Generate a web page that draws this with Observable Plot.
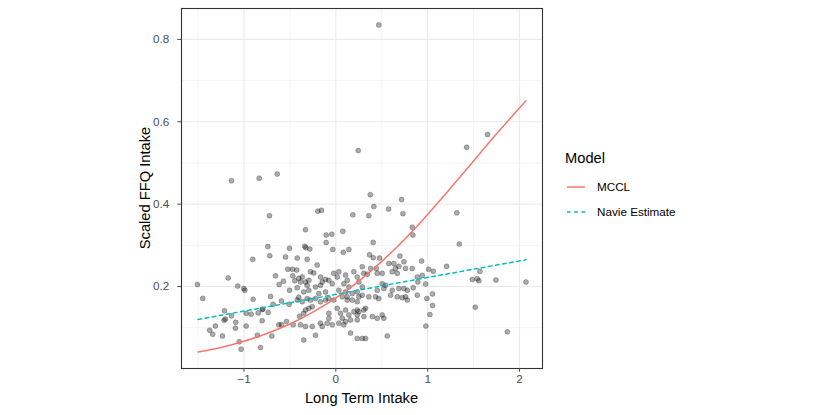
<!DOCTYPE html>
<html>
<head>
<meta charset="utf-8">
<script src="https://cdn.jsdelivr.net/npm/d3@7"></script>
<script src="https://cdn.jsdelivr.net/npm/@observablehq/plot@0.6"></script>
<style>
  html, body { margin: 0; padding: 0; background: white; }
  #chart { width: 830px; height: 415px; }
</style>
</head>
<body>
<div id="chart"></div>
<script>
// ---- data ----
const ptX = [
  0.468, 0.244, 1.424, 1.652, 1.318, 1.344, 0.832, 0.839, 0.934, 1.010,
  1.061, 1.206, 0.941, 0.893, 0.977, 0.843, 1.569, 1.486, 1.540, 1.558,
  1.743, 2.070, 1.053, 0.991, 1.053, 1.024, 0.980, 1.518, 1.867, 0.375,
  0.716, 0.414, 0.574, 0.730, -0.196, -0.156, 0.185, 0.359, -0.330, -0.105,
  -0.044, 0.076, -0.105, 0.407, -0.338, -0.327, -0.283, -0.033, 0.142, 0.081,
  0.367, 0.407, 0.476, 0.697, -0.420, -0.312, -1.136, -0.834, -0.638, -0.722,
  -0.741, -0.504, -0.719, -0.548, -0.904, -0.472, -0.523, -0.425, -1.507, -1.172,
  -1.449, -1.068, -1.002, -0.991, -0.657, -0.570, -0.617, -0.468, -0.447, -0.420,
  -0.504, -0.711, -0.900, -0.682, -0.592, -0.508, -0.403, -1.212, -1.136, -1.216,
  -1.202, -1.311, -1.373, -1.340, -1.234, -1.089, -1.093, -0.976, -0.922, -0.845,
  -0.795, -0.802, -0.736, -0.976, -0.802, -0.853, -1.052, -1.031, -0.820, -0.697,
  -0.621, -0.592, -0.537, -0.464, -0.395,
  -0.203, -0.276, -0.240, -0.403, -0.366, -0.385, -0.330, -0.294, -0.312, -0.167,
  -0.148, -0.112, -0.022, 0.033, 0.015, -0.076, -0.039, 0.106, 0.124, 0.087,
  0.196, 0.233, -0.349, -0.294, -0.185, -0.112, 0.033, 0.106, 0.142, -0.221,
  -0.167, -0.076, 0.070, 0.124, 0.179, 0.233,
  0.288, 0.305, 0.342, 0.378, 0.440, 0.451, 0.505, 0.577, 0.632, 0.686,
  0.650, 0.669, 0.614, 0.741, 0.759, 0.832, 0.887, 0.251, 0.288, 0.505,
  0.541, 0.523, 0.451, 0.288, 0.359, 0.432, 0.614, 0.686, 0.741, 0.778,
  0.596, 0.669, 0.759, 0.887,
  -0.420, -0.366, -0.312, -0.276, -0.221, -0.167, -0.112, -0.022, 0.124, 0.179,
  0.233, -0.330, -0.294, -0.257, -0.349, -0.076, -0.076, -0.094, -0.167, -0.148,
  0.015, 0.051, 0.106, 0.142, 0.196, 0.233, 0.070, 0.106, 0.160, 0.233,
  -0.385, -0.330, -0.257, -0.039, 0.033, 0.087, -0.349, -0.221, 0.160, 0.233,
  0.251, 0.468, 0.723, 0.778, 0.324, 0.305, 0.251, 0.233, 0.305, 0.397,
  0.451, 0.505, 0.523, 0.288, 0.324, 0.560
];
const ptY = [
  0.835, 0.530, 0.538, 0.569, 0.379, 0.303, 0.344, 0.325, 0.262, 0.242,
  0.237, 0.249, 0.227, 0.211, 0.206, 0.197, 0.237, 0.217, 0.219, 0.214,
  0.216, 0.211, 0.182, 0.171, 0.154, 0.132, 0.104, 0.150, 0.090, 0.423,
  0.411, 0.394, 0.388, 0.377, 0.383, 0.385, 0.374, 0.372, 0.338, 0.325,
  0.327, 0.334, 0.307, 0.307, 0.298, 0.294, 0.291, 0.290, 0.290, 0.283,
  0.277, 0.270, 0.269, 0.274, 0.269, 0.266, 0.457, 0.463, 0.473, 0.372,
  0.297, 0.293, 0.275, 0.272, 0.266, 0.242, 0.242, 0.240, 0.205, 0.221,
  0.171, 0.201, 0.195, 0.191, 0.226, 0.213, 0.205, 0.226, 0.214, 0.197,
  0.191, 0.176, 0.169, 0.157, 0.165, 0.157, 0.174, 0.141, 0.129, 0.118,
  0.121, 0.104, 0.094, 0.084, 0.080, 0.113, 0.099, 0.135, 0.133, 0.136,
  0.145, 0.144, 0.137, 0.104, 0.117, 0.082, 0.066, 0.048, 0.052, 0.080,
  0.107, 0.108, 0.115, 0.107, 0.128,
  0.252, 0.236, 0.233, 0.220, 0.223, 0.211, 0.211, 0.215, 0.203, 0.223,
  0.211, 0.217, 0.232, 0.236, 0.223, 0.215, 0.207, 0.228, 0.215, 0.207,
  0.236, 0.223, 0.187, 0.191, 0.183, 0.187, 0.191, 0.187, 0.199, 0.199,
  0.203, 0.171, 0.175, 0.175, 0.183, 0.187,
  0.248, 0.232, 0.230, 0.244, 0.244, 0.232, 0.232, 0.256, 0.256, 0.249,
  0.244, 0.232, 0.236, 0.260, 0.244, 0.244, 0.223, 0.211, 0.199, 0.207,
  0.203, 0.195, 0.191, 0.179, 0.175, 0.175, 0.191, 0.195, 0.195, 0.191,
  0.179, 0.175, 0.175, 0.179,
  0.167, 0.163, 0.171, 0.167, 0.171, 0.163, 0.167, 0.167, 0.167, 0.167,
  0.163, 0.143, 0.147, 0.151, 0.135, 0.135, 0.123, 0.111, 0.111, 0.103,
  0.147, 0.135, 0.143, 0.131, 0.139, 0.143, 0.123, 0.115, 0.119, 0.119,
  0.107, 0.103, 0.103, 0.107, 0.111, 0.107, 0.070, 0.082, 0.087, 0.074,
  0.175, 0.171, 0.173, 0.167, 0.147, 0.143, 0.139, 0.131, 0.127, 0.127,
  0.123, 0.131, 0.123, 0.074, 0.074, 0.080
];

// MCCL fitted curve
const mcclX = [-1.5, -1.25, -1.0, -0.75, -0.5, -0.25, 0, 0.25, 0.5, 0.75, 1.0, 1.25, 1.5, 1.75, 2.07];
const mcclY = [0.041, 0.052, 0.067, 0.086, 0.109, 0.138, 0.172, 0.213, 0.261, 0.315, 0.375, 0.439, 0.505, 0.571, 0.651];

// Naive estimate (dashed teal line)
const naiveX = [-1.5, 0, 1.0, 2.07];
const naiveY = [0.120, 0.181, 0.222, 0.265];

const xTicks = [-1, 0, 1, 2];
const xMinor = [-1.5, -0.5, 0.5, 1.5];
const yTicks = [0.2, 0.4, 0.6, 0.8];
const yMinor = [0.1, 0.3, 0.5, 0.7];

const seriesNames = ["MCCL", "Navie Estimate"];
const seriesColors = ["#F8766D", "#00BFC4"];

// ---- build ----
const points = ptX.map((x, i) => ({x, y: ptY[i]}));
const mccl = mcclX.map((x, i) => ({x, y: mcclY[i]}));
const naive = naiveX.map((x, i) => ({x, y: naiveY[i]}));

const font = "'Liberation Sans', Arial, Helvetica, sans-serif";
const dash = "3.6,3.6";

const chart = Plot.plot({
  width: 830,
  height: 415,
  marginLeft: 181,
  marginRight: 288,
  marginTop: 8,
  marginBottom: 47,
  style: {fontFamily: font, background: "white", overflow: "visible"},
  x: {domain: [-1.68, 2.25], label: null},
  y: {domain: [0.001, 0.875], label: null},
  marks: [
    Plot.ruleX(xMinor, {stroke: "#ebebeb", strokeWidth: 0.55}),
    Plot.ruleY(yMinor, {stroke: "#ebebeb", strokeWidth: 0.55}),
    Plot.ruleX(xTicks, {stroke: "#ebebeb", strokeWidth: 1.1}),
    Plot.ruleY(yTicks, {stroke: "#ebebeb", strokeWidth: 1.1}),
    Plot.dot(points, {x: "x", y: "y", r: 2.5, fill: "black", fillOpacity: 0.33,
      stroke: "black", strokeOpacity: 0.33, strokeWidth: 0.7}),
    Plot.line(mccl, {x: "x", y: "y", stroke: seriesColors[0], strokeWidth: 1.5, curve: "natural"}),
    Plot.line(naive, {x: "x", y: "y", stroke: seriesColors[1], strokeWidth: 1.5, strokeDasharray: dash}),
    Plot.frame({stroke: "#333333", strokeWidth: 1.1}),
    Plot.axisX(xTicks, {tickSize: 3.7, tickPadding: 2.5, fontSize: 11.7, color: "#4d4d4d", label: null}),
    Plot.axisY(yTicks, {tickSize: 3.7, tickPadding: 8.5, fontSize: 11.7, color: "#4d4d4d", label: null,
      tickFormat: d3.format(".1f")})
  ]
});

const svg = d3.select(chart);
svg.append("text")
  .attr("x", 361.5).attr("y", 403)
  .attr("text-anchor", "middle").attr("font-size", 14.7).attr("fill", "black")
  .attr("font-family", font)
  .text("Long Term Intake");
svg.append("text")
  .attr("transform", "translate(150,188) rotate(-90)")
  .attr("text-anchor", "middle").attr("font-size", 14.7).attr("fill", "black")
  .attr("font-family", font)
  .text("Scaled FFQ Intake");

// legend
const lg = svg.append("g").attr("font-family", font).attr("text-anchor", "start");
lg.append("text").attr("x", 565).attr("y", 163).attr("font-size", 14.7)
  .attr("text-anchor", "start").attr("fill", "black").text("Model");
seriesNames.forEach((name, i) => {
  const cy = 187 + i * 25;
  lg.append("line").attr("x1", 567).attr("x2", 585).attr("y1", cy).attr("y2", cy)
    .attr("stroke", seriesColors[i]).attr("stroke-width", 1.5)
    .attr("stroke-dasharray", i === 1 ? dash : null);
  lg.append("text").attr("x", 597).attr("y", cy + 4.2).attr("font-size", 11.7)
    .attr("text-anchor", "start").attr("fill", "black").text(name);
});

document.getElementById("chart").appendChild(chart);
</script>
</body>
</html>
